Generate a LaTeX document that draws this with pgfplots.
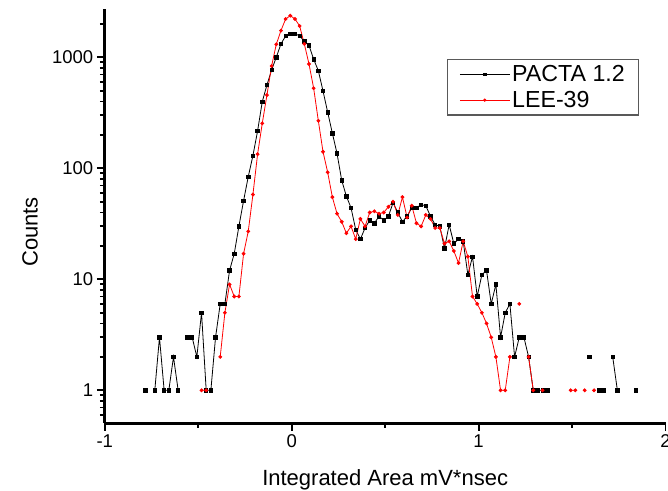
\documentclass[border=0pt]{standalone}
\usepackage{pgfplots}
\usepackage{pgfplotstable}
\pgfplotsset{compat=1.18}
\usepackage{fontspec}
\setmainfont{Liberation Sans}

\pgfplotstableread{
x y
-0.7825 1
-0.7575 nan
-0.7325 1
-0.7075 3
-0.6825 1
-0.6575 1
-0.6325 2
-0.6075 1
-0.5825 nan
-0.5575 3
-0.5325 3
-0.5075 2
-0.4825 5
-0.4575 1
-0.4325 1
-0.4075 3
-0.3825 6
-0.3575 6
-0.3325 12
-0.3075 17
-0.2825 30
-0.2575 51
-0.2325 84
-0.2075 130
-0.1825 217
-0.1575 398
-0.1325 563
-0.1075 769
-0.0825 1000
-0.0575 1320
-0.0325 1556
-0.0075 1632
0.0175 1632
0.0425 1556
0.0675 1393
0.0925 1282
0.1175 959
0.1425 757
0.1675 497
0.1925 320
0.2175 207
0.2425 136
0.2675 78
0.2925 56
0.3175 44
0.3425 28
0.3675 23
0.3925 29
0.4175 34
0.4425 32
0.4675 37
0.4925 34
0.5175 37
0.5425 49
0.5675 40
0.5925 33
0.6175 37
0.6425 44
0.6675 44
0.6925 47
0.7175 46
0.7425 37
0.7675 31
0.7925 30
0.8175 19
0.8425 31
0.8675 21
0.8925 23
0.9175 22
0.9425 11
0.9675 16
0.9925 7
1.0175 11
1.0425 12
1.0675 6
1.0925 9
1.1175 3
1.1425 5
1.1675 6
1.1925 2
1.2175 3
1.2425 3
1.2675 2
1.2925 1
1.3175 1
1.3425 1
1.3675 1
1.3925 nan
1.5675 nan
1.5925 2
1.6175 nan
1.6425 1
1.6675 1
1.6925 nan
1.7175 2
1.7425 1
1.7675 nan
1.8175 nan
1.8425 1
}\pacta

\pgfplotstableread{
x y
-0.4825 1
-0.4575 1
-0.4325 nan
-0.4075 nan
-0.3825 2
-0.3575 5
-0.3325 9
-0.3075 7
-0.2825 7
-0.2575 17
-0.2325 27
-0.2075 58
-0.1825 134
-0.1575 254
-0.1325 457
-0.1075 835
-0.0825 1309
-0.0575 1738
-0.0325 2213
-0.0075 2371
0.0175 2213
0.0425 1914
0.0675 1320
0.0925 870
0.1175 526
0.1425 268
0.1675 141
0.1925 92
0.2175 55
0.2425 39
0.2675 33
0.2925 26
0.3175 30
0.3425 23
0.3675 35
0.3925 30
0.4175 40
0.4425 41
0.4675 39
0.4925 40
0.5175 45
0.5425 50
0.5675 38
0.5925 55
0.6175 36
0.6425 46
0.6675 32
0.6925 30
0.7175 38
0.7425 35
0.7675 29
0.7925 29
0.8175 21
0.8425 22
0.8675 18
0.8925 14
0.9175 22
0.9425 16
0.9675 7
0.9925 6
1.0175 5
1.0425 4
1.0675 3
1.0925 2
1.1175 1
1.1425 1
1.1675 2
1.1925 nan
1.2175 6
1.2425 nan
1.2675 2
1.2925 1
1.3175 nan
1.3425 1
1.3675 nan
1.4675 nan
1.4925 1
1.5175 1
1.5425 nan
1.5675 1
1.5925 nan
1.6175 1
}\lee

\begin{document}
\begin{tikzpicture}
\begin{axis}[
  scale only axis,
  width=560.7pt, height=414pt,
  xmin=-1, xmax=2,
  ymode=log, ymin=0.5075, ymax=2723,
  axis x line*=bottom, axis y line*=left,
  axis line style={line width=3pt, black},
  xtick={-1,0,1,2}, xticklabels={-1,0,1,2},
  minor xtick={-0.5,0.5,1.5},
  ytick={1,10,100,1000}, yticklabels={1,10,100,1000},
  minor ytick={0.6,0.7,0.8,0.9,2,3,4,5,6,7,8,9,20,30,40,50,60,70,80,90,200,300,400,500,600,700,800,900,2000},
  tick align=outside,
  major tick length=8pt, minor tick length=5pt,
  tick style={black, line width=1.8pt},
  ticklabel style={font=\fontsize{18.5}{20}\selectfont},
  xlabel={Integrated Area mV*nsec},
  ylabel={Counts},
  label style={font=\fontsize{22}{24}\selectfont},
  xlabel style={at={(axis description cs:0.5,-0.1377)}, anchor=center},
  ylabel style={at={(axis description cs:-0.1334,0.4614)}, anchor=center},
  unbounded coords=jump,
  clip=false,
  legend style={at={(axis description cs:0.6098,0.8792)}, anchor=north west,
    draw=black!65, line width=1.3pt, fill=white,
    font=\fontsize{23.2}{25}\selectfont,
    inner xsep=12pt, inner ysep=4pt, row sep=4pt},
  legend cell align=left,
  legend image code/.code={
    \draw[#1, mark=none] (0pt,0pt) -- (50pt,0pt);
    \draw[#1, only marks, mark size=1.2pt] plot coordinates {(25pt,0pt)};
  },
]
\addplot[black, line width=0.8pt, mark=square*, mark size=1.7pt, mark options={solid}] table {\pacta};
\addlegendentry{PACTA 1.2}
\addplot[red, line width=0.8pt, mark=*, mark size=1.5pt, mark options={solid}] table {\lee};
\addlegendentry{LEE-39}
\end{axis}
\pgfresetboundingbox
\path[use as bounding box] (-104.8pt,-67pt) rectangle (563.2pt,423pt);
\end{tikzpicture}
\end{document}
